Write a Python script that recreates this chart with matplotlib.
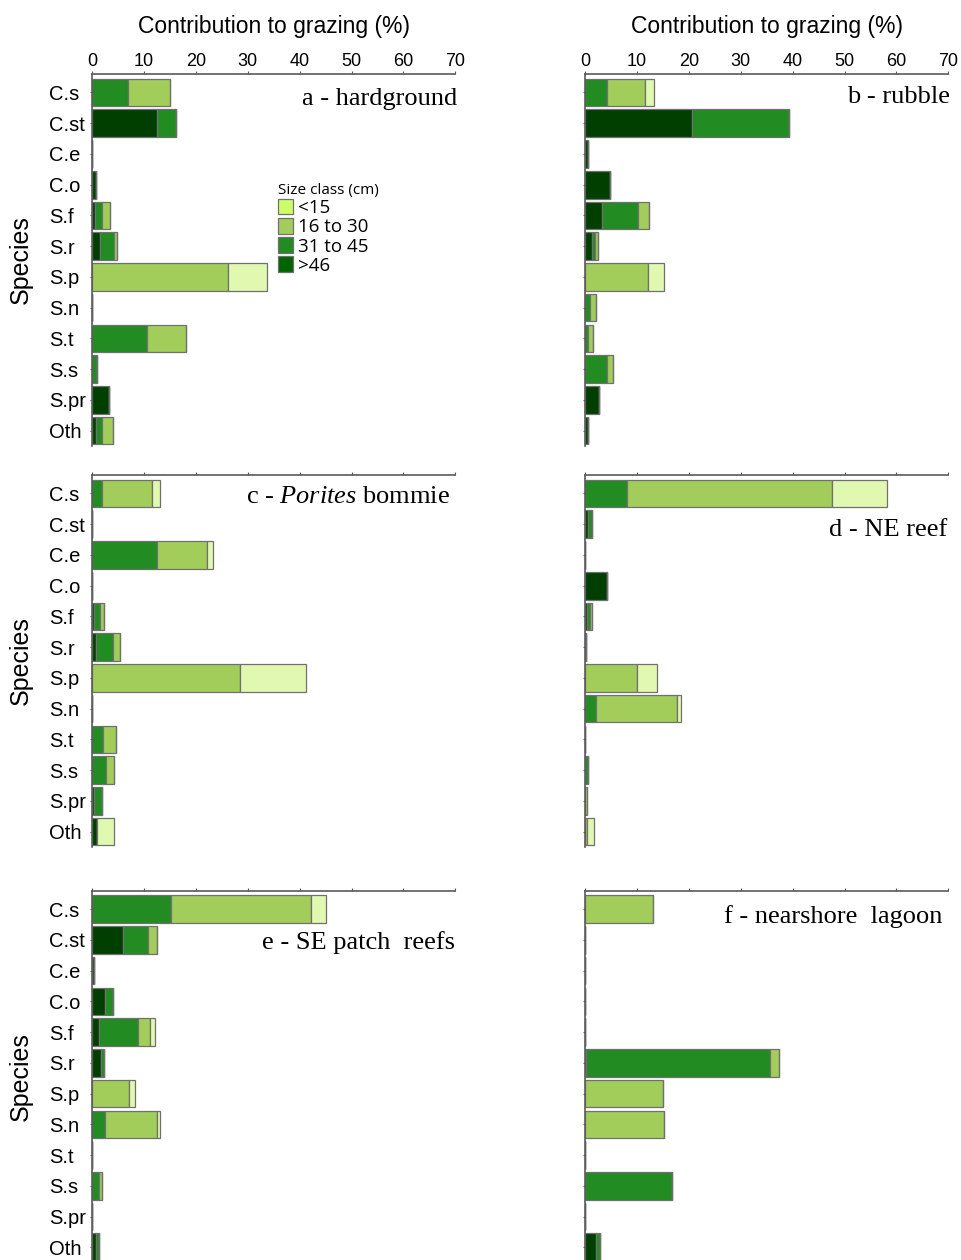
import matplotlib.pyplot as plt
import numpy as np
from matplotlib.patches import Patch

plt.rcParams['font.family'] = ['Liberation Sans', 'DejaVu Sans']
plt.rcParams['mathtext.fontset'] = 'custom'
plt.rcParams['mathtext.rm'] = 'Liberation Serif'
plt.rcParams['mathtext.it'] = 'Liberation Serif:italic'

species = ['C.s', 'C.st', 'C.e', 'C.o', 'S.f', 'S.r', 'S.p', 'S.n', 'S.t', 'S.s', 'S.pr', 'Oth']
size_classes = ['>46', '31 to 45', '16 to 30', '<15']

# contribution (%) per species, one row per size class: >46, 31-45, 16-30, <15
hardground = [
    [0, 12.4, 0, 0.8, 0.6, 1.5, 0, 0, 0, 0, 3.3, 0.8],
    [6.9, 3.7, 0, 0, 1.2, 2.7, 0, 0, 10.5, 1.0, 0, 1.0],
    [8.1, 0, 0, 0, 1.6, 0.6, 26.1, 0, 7.5, 0, 0, 2.1],
    [0, 0, 0, 0, 0, 0, 7.6, 0, 0, 0, 0, 0],
]
rubble = [
    [0, 20.6, 0.45, 4.8, 3.3, 1.3, 0, 0, 0, 0, 2.6, 0.6],
    [4.2, 18.7, 0, 0, 6.9, 0.6, 0, 1.0, 0.6, 4.2, 0, 0],
    [7.4, 0, 0, 0, 2.1, 0.5, 12.0, 1.0, 0.9, 1.2, 0, 0],
    [1.6, 0, 0, 0, 0, 0, 3.1, 0, 0, 0, 0, 0],
]
porites_bommie = [
    [0, 0, 0, 0, 0.3, 0.8, 0, 0, 0, 0, 0.3, 1.0],
    [1.8, 0, 12.4, 0, 1.2, 3.2, 0, 0, 2.1, 2.6, 1.6, 0],
    [9.8, 0, 9.7, 0, 0.8, 1.3, 28.4, 0, 2.5, 1.6, 0, 0],
    [1.4, 0, 1.2, 0, 0, 0, 12.8, 0, 0, 0, 0, 3.1],
]
ne_reef = [
    [0, 0.5, 0, 4.2, 0.3, 0.2, 0, 0, 0, 0, 0, 0],
    [8.0, 0.8, 0, 0, 0.6, 0, 0, 2.1, 0, 0.6, 0, 0],
    [39.6, 0, 0, 0, 0.4, 0, 9.9, 15.5, 0, 0, 0.4, 0.3],
    [10.6, 0, 0, 0, 0, 0, 4.0, 0.8, 0, 0, 0, 1.3],
]
se_patch_reefs = [
    [0, 6.0, 0.3, 2.4, 1.2, 1.7, 0, 0, 0, 0, 0, 0.8],
    [15.2, 4.8, 0, 1.5, 7.7, 0.6, 0, 2.4, 0, 1.3, 0, 0.4],
    [27.0, 1.7, 0, 0, 2.2, 0, 7.0, 10.1, 0, 0.6, 0, 0],
    [2.8, 0, 0, 0, 1.0, 0, 1.2, 0.6, 0, 0, 0, 0],
]
nearshore_lagoon = [
    [0, 0, 0, 0, 0, 0.2, 0, 0, 0, 0, 0, 2.1],
    [0, 0, 0, 0, 0, 35.4, 0, 0, 0, 16.8, 0, 0.7],
    [13.0, 0, 0, 0, 0, 1.7, 14.9, 15.2, 0, 0, 0, 0],
    [0, 0, 0, 0, 0, 0, 0, 0, 0, 0, 0, 0],
]

bar_colors = ['#003f00', '#228b22', '#a2cd5a', '#e0f8b0']
legend_colors = ['#ccff66', '#a2cd5a', '#228b22', '#006400']
edge = '#707070'
spine_color = '#5a5a5a'

fig = plt.figure(figsize=(9.61, 12.6), dpi=100)
W, H = 961, 1260


def add_panel(x0, top):
    return fig.add_axes([x0 / W, 1 - (top + 372) / H, 363 / W, 372 / H])


def draw_panel(ax, layers, label, lx, ly, left_col, top_row):
    y = np.arange(len(species))
    left = np.zeros(len(species))
    for values, color in zip(layers, bar_colors):
        values = np.array(values, dtype=float)
        ax.barh(y, values, left=left, height=0.9, color=color,
                edgecolor=edge, linewidth=0.9)
        left += values

    ax.set_xlim(0, 70)
    ax.set_ylim(11.5, -0.6)
    ax.set_xticks(np.arange(0, 71, 10))
    ax.set_yticks(y)
    ax.xaxis.tick_top()
    for side in ['right', 'bottom']:
        ax.spines[side].set_visible(False)
    for side in ['left', 'top']:
        ax.spines[side].set_color(spine_color)
        ax.spines[side].set_linewidth(1.2)
    ax.tick_params(axis='x', length=2.5, width=0.8, color=spine_color,
                   pad=0.5, labelsize=13, labeltop=top_row)
    ax.tick_params(axis='y', length=1.5, width=0.8, color=spine_color,
                   pad=29.5, labelsize=14.5, labelleft=left_col)

    if left_col:
        ax.set_yticklabels(species)
        for tl in ax.get_yticklabels():
            tl.set_ha('left')
        ax.set_ylabel('Species', fontsize=18)
        ax.yaxis.set_label_coords(-0.163, 0.5)
    if top_row:
        ax.xaxis.set_label_position('top')
        ax.set_xlabel('Contribution to grazing (%)', fontsize=16.5, labelpad=14)

    ax.text(lx, ly, label, ha='right', va='center',
            family='Liberation Serif', fontsize=19)


ax_a = add_panel(92.3, 74)
ax_b = add_panel(585.3, 74)
ax_c = add_panel(92.3, 475)
ax_d = add_panel(585.3, 475)
ax_e = add_panel(92.3, 890.7)
ax_f = add_panel(585.3, 890.7)

draw_panel(ax_a, hardground, 'a - hardground', 70.4, 0.2, True, True)
draw_panel(ax_b, rubble, 'b - rubble', 70.4, 0.15, False, True)
draw_panel(ax_c, porites_bommie, r'c - $\mathit{Porites}$ bommie', 69.0, 0.1, True, False)
draw_panel(ax_d, ne_reef, 'd - NE reef', 69.8, 1.2, False, False)
draw_panel(ax_e, se_patch_reefs, 'e - SE patch  reefs', 70.0, 1.1, True, False)
draw_panel(ax_f, nearshore_lagoon, 'f - nearshore  lagoon', 68.9, 0.25, False, False)

handles = [Patch(facecolor=c, edgecolor=edge, linewidth=0.9) for c in legend_colors]
ax_a.legend(handles, size_classes[::-1], title='Size class (cm)',
            loc='upper left', bbox_to_anchor=(0.511, 0.707), frameon=False,
            prop={'family': 'Open Sans', 'size': 13.5},
            title_fontproperties={'family': 'Open Sans', 'size': 11},
            handlelength=0.8, handleheight=0.9, handletextpad=0.3,
            labelspacing=0.05, borderpad=0, borderaxespad=0,
            alignment='left')

fig.savefig('out.png', dpi=100)
